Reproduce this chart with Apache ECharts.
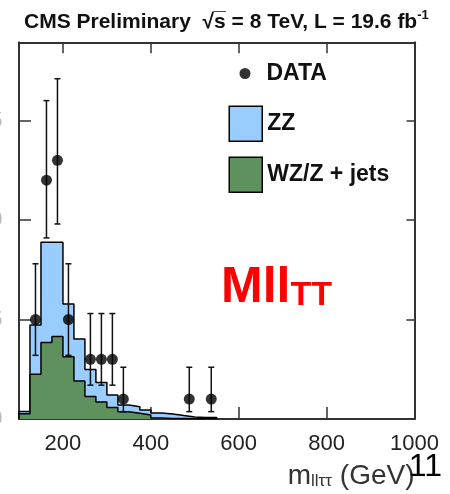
<!DOCTYPE html>
<html><head><meta charset="utf-8">
<script src="https://cdn.jsdelivr.net/npm/echarts@6/dist/echarts.min.js"></script>
<style>html,body{margin:0;padding:0;background:#fff}#c{width:450px;height:494px}</style>
</head><body><div id="c"></div>
<script>
// ---- data ----
const binLow = [100,125,150,175,200,225,250,275,300,325,350,375,400,425,450,475,500,525];
const binWidth = 25;
const wzJets = [0.26,2.25,3.85,4.14,3.13,1.91,1.13,0.85,0.58,0.37,0.29,0.20,0.05,0.03,0.02,0.01,0.01,0.01];
const zz     = [0.12,2.47,5.03,4.74,2.65,2.11,1.36,0.98,0.63,0.33,0.33,0.25,0.25,0.22,0.15,0.09,0.07,0.07];
const dataMass  = [137.5,162.5,187.5,212.5,262.5,287.5,312.5,337.5,487.5,537.5];
const dataCount = [5,12,13,5,3,3,3,1,1,1];
const dataLow   = [3.2,9.1,9.8,3.2,1.7,1.7,1.7,0.37,0.37,0.37];
const dataHigh  = [7.8,16.0,17.1,7.8,5.3,5.3,5.3,2.6,2.6,2.6];
const xTicks = [200,400,600,800,1000];
const yTicks = [0,5,10,15];

const FONT = 'Liberation Sans, Arial, sans-serif';
const total = zz.map((v,i)=>v+wzJets[i]);
function stepData(vals){
  const pts=[[binLow[0],0]];
  vals.forEach((v,i)=>pts.push([binLow[i],v]));
  pts.push([binLow[binLow.length-1]+binWidth,0]);
  return pts;
}
const axisLineStyle = {color:'#333', width:2};
const tickStyle = {color:'#333', width:1.5};
const red = {fontWeight:'bold', color:'#ff0000', fontFamily:FONT, verticalAlign:'bottom'};
const xn = {color:'#333', fontFamily:FONT, fontWeight:'normal', verticalAlign:'bottom'};

const chart = echarts.init(document.getElementById('c'), null, {renderer:'canvas'});
chart.setOption({
  animation:false,
  backgroundColor:'#fff',
  grid:{left:19, right:35.5, top:42.3, bottom:75, containLabel:false, outerBoundsMode:'none'},
  title:[
    {text:'CMS Preliminary  \u221As\u0305 = 8 TeV, L = 19.6 fb{sup|-1}', left:24, top:9, padding:0,
     textStyle:{fontSize:21, fontWeight:'bold', color:'#111', fontFamily:FONT, lineHeight:26,
       rich:{sup:{fontSize:13, fontWeight:'bold', color:'#111', fontFamily:FONT, verticalAlign:'top', lineHeight:14}}}},
    {text:'{m|M}{l|ll}{t|TT}', left:221, top:263, padding:0,
     textStyle:{rich:{
       m:Object.assign({fontSize:50, lineHeight:50}, red),
       l:Object.assign({fontSize:50, lineHeight:50}, red),
       t:Object.assign({fontSize:34, lineHeight:39}, red)}}},
    {text:'{m|m}{s|ll\u03C4\u03C4}{g| (GeV)}', right:35.5, top:460, padding:0,
     textStyle:{fontWeight:'normal', rich:{
       m:Object.assign({fontSize:28, lineHeight:30}, xn),
       s:Object.assign({fontSize:17, lineHeight:8}, xn),
       g:Object.assign({fontSize:28, lineHeight:30}, xn)}}},
    {text:'11', right:8, top:451, padding:0,
     textStyle:{fontSize:32, fontWeight:'normal', color:'#000', fontFamily:FONT, lineHeight:32}}
  ],
  legend:[
    {orient:'vertical', left:239.5, top:62, padding:0, itemWidth:33, itemHeight:11, selectedMode:false,
     data:[{name:'DATA', icon:'circle', itemStyle:{color:'#000', borderWidth:0}}],
     textStyle:{fontSize:23, fontWeight:'bold', color:'#111', fontFamily:FONT}},
    {orient:'vertical', left:228.5, top:105.5, padding:0, itemWidth:33, itemHeight:35, itemGap:14.6, selectedMode:false,
     data:[{name:'ZZ', icon:'rect', itemStyle:{color:'#99ccff', borderColor:'#000', borderWidth:1.5}},
           {name:'WZ/Z + jets', icon:'rect', itemStyle:{color:'#5f915f', borderColor:'#000', borderWidth:1.5}}],
     textStyle:{fontSize:23, fontWeight:'bold', color:'#111', fontFamily:FONT}}
  ],
  xAxis:[
    {type:'value', min:100, max:1000, position:'bottom',
     axisLine:{show:true, onZero:false, lineStyle:axisLineStyle},
     axisTick:{show:true, inside:true, length:12, lineStyle:tickStyle, customValues:xTicks},
     axisLabel:{customValues:xTicks, fontSize:22, color:'#222', margin:14, fontFamily:FONT,
       formatter:v=>String(v)},
     splitLine:{show:false}},
    {type:'value', min:100, max:1000, position:'top',
     axisLine:{show:true, onZero:false, lineStyle:axisLineStyle},
     axisTick:{show:true, inside:true, length:11, lineStyle:tickStyle, customValues:xTicks},
     axisLabel:{show:false}, splitLine:{show:false}}
  ],
  yAxis:[
    {type:'value', min:0, max:18.93, interval:5, position:'left',
     axisLine:{show:true, onZero:false, lineStyle:axisLineStyle},
     axisTick:{show:true, inside:true, length:12, lineStyle:tickStyle, customValues:yTicks},
     axisLabel:{customValues:yTicks, fontSize:22, color:'#bbb', margin:16.5, fontFamily:FONT},
     splitLine:{show:false}},
    {type:'value', min:0, max:18.93, interval:5, position:'right',
     axisLine:{show:true, onZero:false, lineStyle:axisLineStyle},
     axisTick:{show:true, inside:true, length:8, lineStyle:tickStyle, customValues:yTicks},
     axisLabel:{show:false}, splitLine:{show:false}}
  ],
  series:[
    {name:'ZZ', type:'line', step:'end', data:stepData(total), symbol:'none',
     lineStyle:{color:'#000', width:1.5}, areaStyle:{color:'#99ccff', opacity:1},
     itemStyle:{color:'#99ccff'}, z:2},
    {name:'WZ/Z + jets', type:'line', step:'end', data:stepData(wzJets), symbol:'none',
     lineStyle:{color:'#000', width:1.5}, areaStyle:{color:'#5f915f', opacity:1},
     itemStyle:{color:'#5f915f'}, z:3},
    {name:'err', type:'custom', z:4,
     data:dataMass.map((m,i)=>[m,dataLow[i],dataHigh[i]]),
     encode:{x:0, y:[1,2]},
     renderItem:function(params, api){
       const x=api.value(0), lo=api.value(1), hi=api.value(2);
       const pl=api.coord([x,lo]), ph=api.coord([x,hi]);
       const c=3, st={stroke:'#111', lineWidth:1.5};
       return {type:'group', children:[
         {type:'line', shape:{x1:pl[0],y1:pl[1],x2:ph[0],y2:ph[1]}, style:st},
         {type:'line', shape:{x1:pl[0]-c,y1:pl[1],x2:pl[0]+c,y2:pl[1]}, style:st},
         {type:'line', shape:{x1:ph[0]-c,y1:ph[1],x2:ph[0]+c,y2:ph[1]}, style:st}
       ]};
     }},
    {name:'DATA', type:'scatter', data:dataMass.map((m,i)=>[m,dataCount[i]]),
     symbol:'circle', symbolSize:11, itemStyle:{color:'#000'}, z:5}
  ]
});
</script></body></html>
